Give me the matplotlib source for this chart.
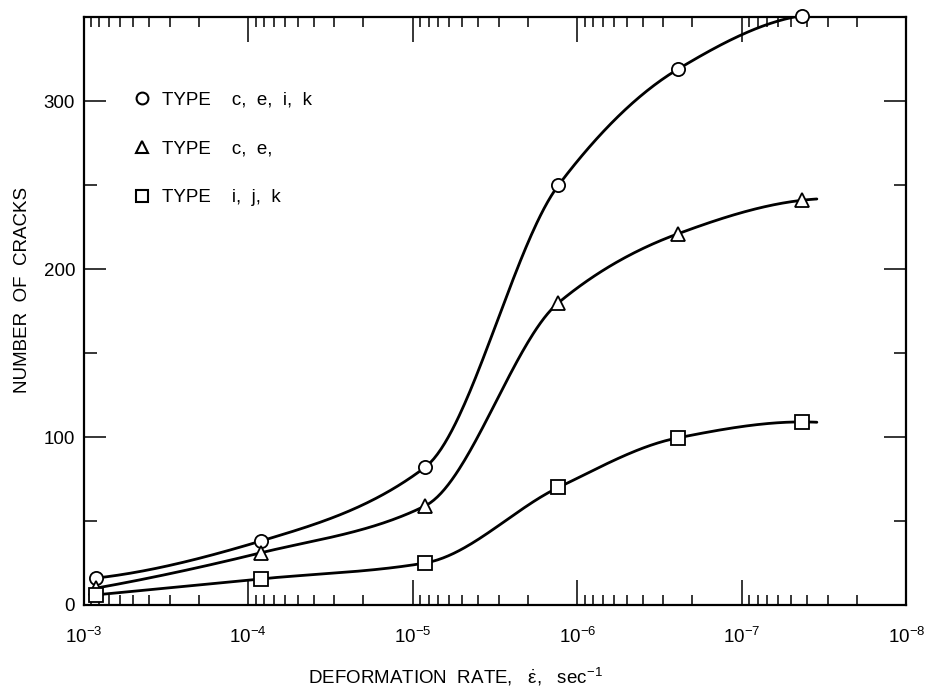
#!/usr/bin/env python3
"""Number of cracks vs deformation rate (log axis, decreasing to the right)."""
import numpy as np
import matplotlib
matplotlib.use("Agg")
import matplotlib.pyplot as plt
from matplotlib.lines import Line2D
from matplotlib.ticker import FixedLocator, NullFormatter

plt.rcParams['font.family'] = ['Liberation Sans', 'DejaVu Sans']
plt.rcParams['mathtext.fontset'] = 'custom'
plt.rcParams['mathtext.rm'] = 'Liberation Sans'
plt.rcParams['mathtext.it'] = 'Liberation Sans'

# --- data ---
rate = [8.4e-4, 8.4e-5, 8.4e-6, 1.3e-6, 2.45e-7, 4.3e-8]   # sec^-1
type_ceik = [16, 38, 82, 250, 319, 351]
type_ce = [10, 31, 59, 180, 221, 241]
type_ijk = [6, 15.5, 25, 70, 99.5, 109]
curve_end = 3.5e-8          # hand-drawn curves run a little past the last point

series = [type_ceik, type_ce, type_ijk]
markers = ['o', '^', 's']
legend_labels = ['TYPE    c,  e,  i,  k', 'TYPE    c,  e,', 'TYPE    i,  j,  k']

x_decades = [1e-3, 1e-4, 1e-5, 1e-6, 1e-7, 1e-8]
y_major = [0, 100, 200, 300]
y_minor = [50, 150, 250]


def pchip(xk, yk, xq):
    """Monotone cubic through the points (for the smooth hand-drawn look)."""
    xk = np.asarray(xk, float)
    yk = np.asarray(yk, float)
    h = np.diff(xk)
    d = np.diff(yk) / h
    n = len(xk)
    m = np.zeros(n)
    for k in range(1, n - 1):
        if d[k - 1] * d[k] > 0:
            w1 = 2 * h[k] + h[k - 1]
            w2 = h[k] + 2 * h[k - 1]
            m[k] = (w1 + w2) / (w1 / d[k - 1] + w2 / d[k])
    m[0] = ((2 * h[0] + h[1]) * d[0] - h[0] * d[1]) / (h[0] + h[1])
    if np.sign(m[0]) != np.sign(d[0]):
        m[0] = 0
    m[-1] = ((2 * h[-1] + h[-2]) * d[-1] - h[-1] * d[-2]) / (h[-1] + h[-2])
    if np.sign(m[-1]) != np.sign(d[-1]):
        m[-1] = 0
    idx = np.clip(np.searchsorted(xk, xq) - 1, 0, n - 2)
    t = (xq - xk[idx]) / h[idx]
    h00 = 2 * t**3 - 3 * t**2 + 1
    h10 = t**3 - 2 * t**2 + t
    h01 = -2 * t**3 + 3 * t**2
    h11 = t**3 - t**2
    return (h00 * yk[idx] + h10 * h[idx] * m[idx]
            + h01 * yk[idx + 1] + h11 * h[idx] * m[idx + 1])


fig = plt.figure(figsize=(9.33, 6.89), dpi=100)
ax = fig.add_axes([0.0895, 0.122, 0.882, 0.853])

u = -np.log10(rate)
uq = np.linspace(u[0], -np.log10(curve_end), 400)
for vals, mk in zip(series, markers):
    ax.plot(10 ** (-uq), pchip(u, vals, uq), color='black', lw=2.0,
            solid_capstyle='round', zorder=2)
    ax.plot(rate, vals, linestyle='none', marker=mk, ms=9.5, mfc='white',
            mec='black', mew=1.3, zorder=3, clip_on=False)

ax.set_xscale('log')
ax.set_xlim(x_decades[0], x_decades[-1])
ax.set_ylim(0, 350)

ax.yaxis.set_major_locator(FixedLocator(y_major))
ax.yaxis.set_minor_locator(FixedLocator(y_minor))
ax.yaxis.set_minor_formatter(NullFormatter())
ax.xaxis.set_major_locator(FixedLocator(x_decades))

ax.tick_params(which='both', direction='in', top=True, right=True,
               labelsize=13.5, width=1.1, color='black')
ax.tick_params(axis='x', which='major', length=18, pad=16)
ax.tick_params(axis='x', which='minor', length=7)
ax.tick_params(axis='y', which='major', length=16, pad=6)
ax.tick_params(axis='y', which='minor', length=9)
for s in ax.spines.values():
    s.set_linewidth(1.6)

fig.text(0.024, 1 - 290 / 689, 'NUMBER  OF  CRACKS', rotation=90,
         ha='center', va='center', fontsize=13.5)
fig.text(455 / 933, 1 - 677 / 689,
         r'DEFORMATION  RATE,   $\dot{\varepsilon}$,   sec$^{-1}$',
         ha='center', va='center', fontsize=13.5)

handles = [Line2D([], [], linestyle='none', marker=mk, ms=8.5, mfc='white',
                  mec='black', mew=1.5) for mk in markers]
ax.legend(handles, legend_labels, loc='upper left',
          bbox_to_anchor=(0.054, 0.887), frameon=False, fontsize=13.5,
          handlelength=0.7, handletextpad=0.7, labelspacing=1.7,
          borderaxespad=0)

fig.savefig('out.png', dpi=100)
